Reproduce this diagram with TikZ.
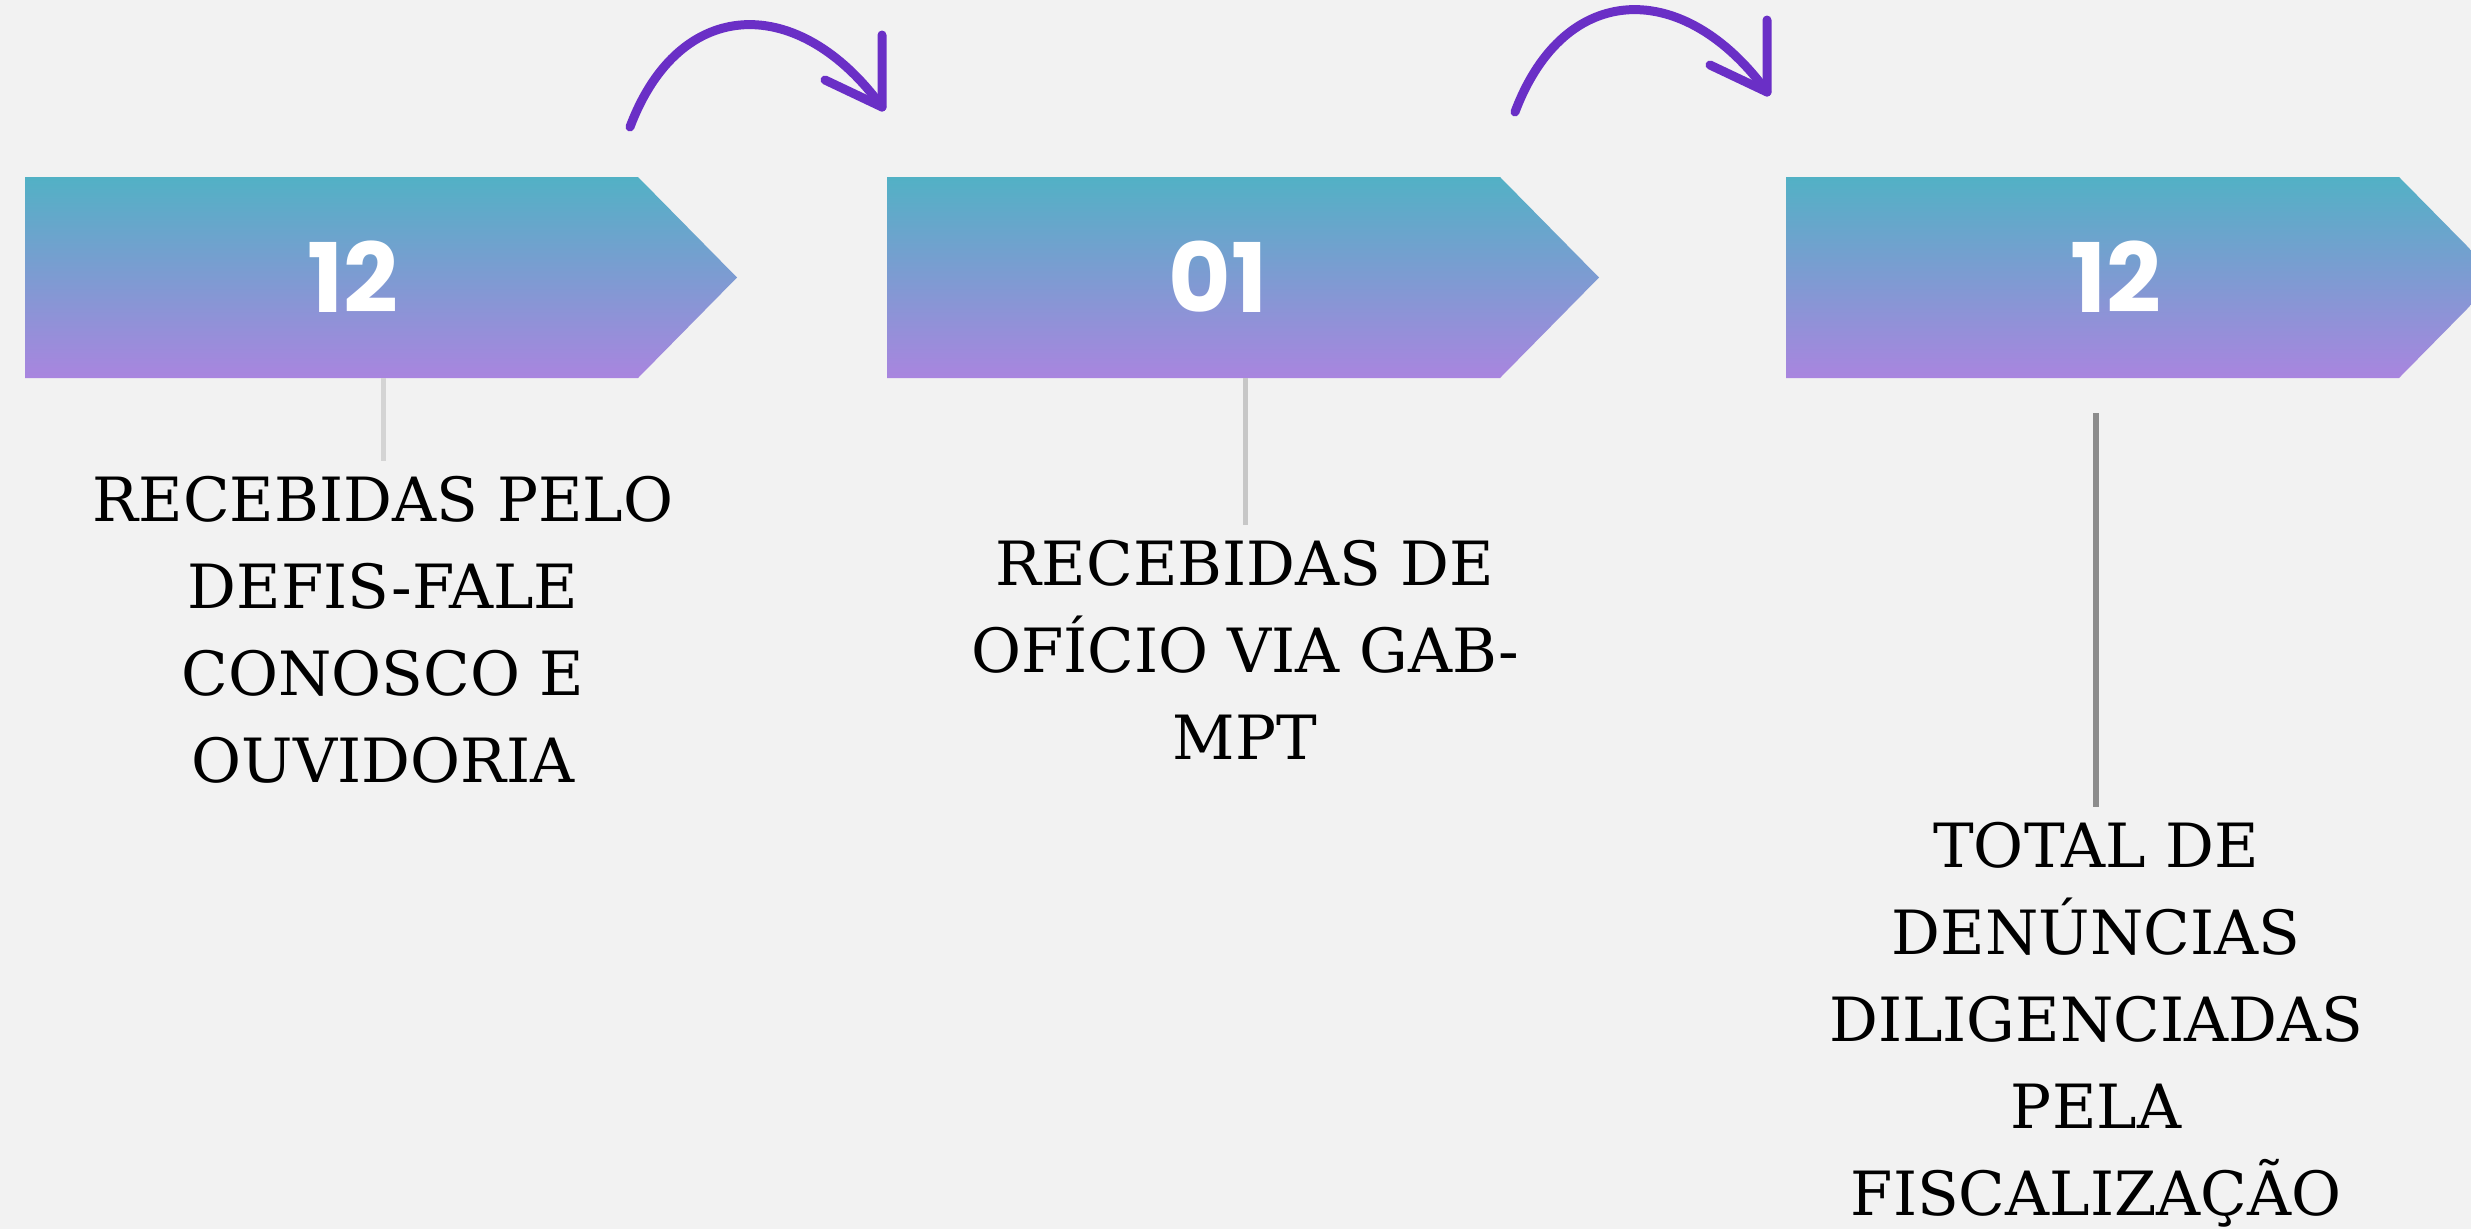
\documentclass[tikz,border=0pt]{standalone}
\usepackage{fontspec}
\setmainfont{DejaVu Serif}
\newfontfamily\numfont{Poppins}
\definecolor{bgpaper}{HTML}{F2F2F2}
\definecolor{boxtop}{HTML}{52B1C5}
\definecolor{boxbot}{HTML}{A985DF}
\definecolor{curlc}{HTML}{6A2FC6}
\begin{document}
\begin{tikzpicture}[x=1pt, y=1pt, line join=round, line cap=round,
	curl/.style={draw=curlc, line width=9pt},
	num/.style={text=white, font=\numfont\bfseries\fontsize{96}{96}\selectfont},
	lbl/.style={anchor=north, align=center, inner xsep=0pt, inner ysep=15pt, font=\fontsize{61}{87}\selectfont},
	tie/.style={line width=5pt, line cap=butt}]
	\fill[bgpaper] (0,0) rectangle (2471,-1229);
	\useasboundingbox (0,0) rectangle (2471,-1229);
	\clip (0,0) rectangle (2471,-1229);
	% setas com gradiente
	\foreach \x in {25,887,1786}
		\shade[top color=boxtop, bottom color=boxbot] (\x,-177) -- ++(613,0) -- ++(99,-100.5) -- ++(-99,-100.5) -- ++(-613,0) -- cycle;
	\node[num] (n1) at (353,-277) {12};
	\node[num] (n2) at (1218,-277) {01};
	\node[num] (n3) at (2116,-277) {12};
	% textos
	\node[lbl] (l1) at (383,-461) {RECEBIDAS PELO\\DEFIS-FALE\\CONOSCO E\\OUVIDORIA};
	\node[lbl] (l2) at (1245,-525) {RECEBIDAS DE\\OFÍCIO VIA GAB-\\MPT};
	\node[lbl] (l3) at (2096,-807) {TOTAL DE\\DENÚNCIAS\\DILIGENCIADAS\\PELA\\FISCALIZAÇÃO};
	\coordinate (t1) at (383,-378);
	\coordinate (t2) at (1245,-378);
	\coordinate (t3) at (2096,-413);
	\draw[tie, draw=black!17] (t1) -- (l1.north);
	\draw[tie, draw=black!22] (t2) -- (l2.north);
	\draw[tie, draw=black!45, line width=6pt] (t3) -- (l3.north);
	% setas curvas
	\foreach \i/\dx/\dy in {1/0/0, 2/885/15} {
		\coordinate (a\i) at (630+\dx,-127+\dy);
		\coordinate (z\i) at (882+\dx,-107+\dy);
		\draw[curl] (a\i) .. controls +(50,133) and +(-82,113) .. (z\i);
		\draw[curl] (z\i) ++(-57,27) -- (z\i) -- ++(0,72);
	}
\end{tikzpicture}
\end{document}
